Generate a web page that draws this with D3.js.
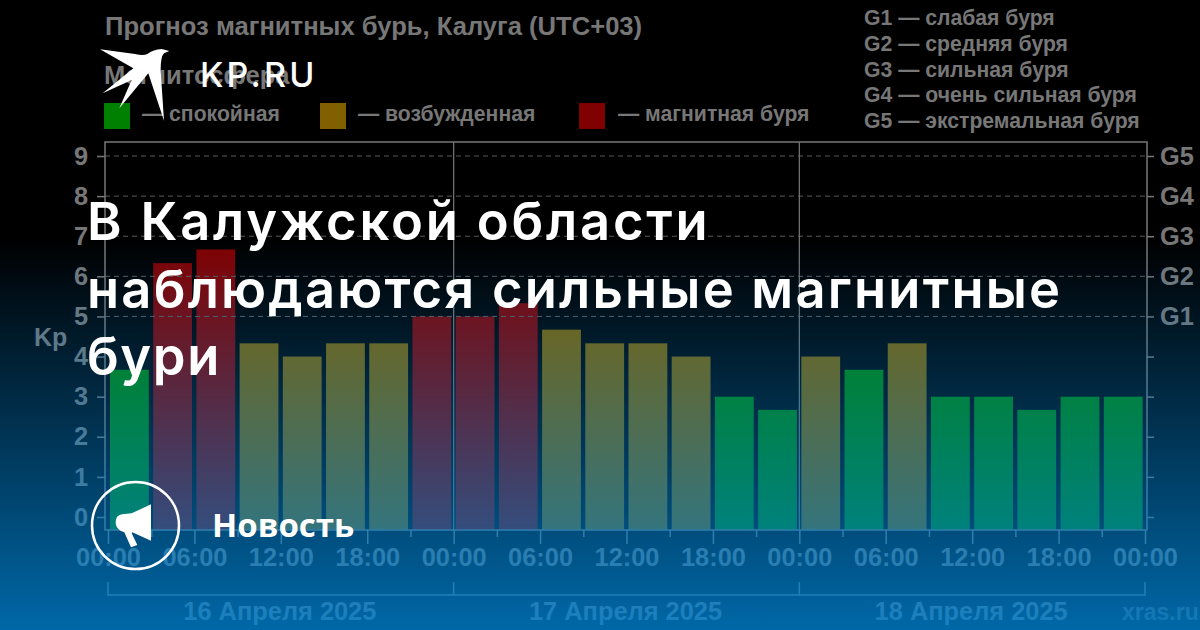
<!DOCTYPE html>
<html><head><meta charset="utf-8">
<script src="https://cdn.jsdelivr.net/npm/d3@7/dist/d3.min.js"></script>
<style>html,body{margin:0;padding:0;background:#000;overflow:hidden}svg{display:block}</style>
</head><body><svg id="c" width="1200" height="630"></svg>
<script>
const kpValues=[3.67,6.33,6.67,4.33,4,4.33,4.33,5,5,5.33,4.67,4.33,4.33,4,3,2.67,4,3.67,4.33,3,3,2.67,3,3];
const kpTicks=[0,1,2,3,4,5,6,7,8,9];
const gScale=[[5,"G1"],[6,"G2"],[7,"G3"],[8,"G4"],[9,"G5"]];
const hourTicks=[0,6,12,18,24,30,36,42,48,54,60,66,72];
const minorHours=[3,9,15,21,27,33,39,45,51,57,63,69];
const dayLabels=["16 Апреля 2025","17 Апреля 2025","18 Апреля 2025"];
const legendItems=[["— спокойная","#008000"],["— возбужденная","#806000"],["— магнитная буря","#800000"]];
const stormList=["G1 — слабая буря","G2 — средняя буря","G3 — сильная буря","G4 — очень сильная буря","G5 — экстремальная буря"];
const headline=["В Калужской области","наблюдаются сильные магнитные","бури"];

const GR="#777",AF="'Liberation Sans',Arial,sans-serif";
const svg=d3.select("#c");
const x=d3.scaleLinear().domain([0,72]).range([108,1145]);
const y=d3.scaleLinear().domain([0,9]).range([517,156]);
const col=d3.scaleThreshold().domain([4,5]).range(legendItems.map(d=>d[1]));
const fmtH=h=>String(h%24).padStart(2,"0")+":00";
const T=(s,tx,ty,size,o={})=>svg.append("text").attr("x",tx).attr("y",ty).attr("font-family",o.f||AF)
  .attr("font-weight",o.w||700).attr("font-size",size).attr("fill",o.c||GR).attr("text-anchor",o.a||"start")
  .attr("letter-spacing",o.ls||0).text(s);

// header
T("Прогноз магнитных бурь, Калуга (UTC+03)",105,35,25.6);
T("Магнитосфера",104,84,25.6);
[[104,142],[320,358],[579,618]].forEach((p,i)=>{
  svg.append("rect").attr("x",p[0]).attr("y",103).attr("width",26).attr("height",26).attr("fill",legendItems[i][1]);
  T(legendItems[i][0],p[1],121,21.2);
});
stormList.forEach((s,i)=>T(s,864,[25,51,77,102,128][i],21.2));

// bars
svg.append("g").selectAll("rect").data(kpValues).join("rect")
  .attr("x",(d,i)=>x(i*3)+2).attr("width",x(3)-x(0)-4.4)
  .attr("y",d=>y(d)).attr("height",d=>530-y(d)).attr("fill",d=>col(d));

// grid
svg.append("g").selectAll("line").data(gScale).join("line")
  .attr("x1",105).attr("x2",1147).attr("y1",d=>y(d[0])).attr("y2",d=>y(d[0]))
  .attr("stroke","#5a5a5a").attr("stroke-width",1).attr("stroke-dasharray","5 4");
svg.append("g").selectAll("line").data([24,48]).join("line")
  .attr("x1",d=>x(d)).attr("x2",d=>x(d)).attr("y1",142).attr("y2",530)
  .attr("stroke",GR).attr("stroke-width",1.2);
svg.append("rect").attr("x",105).attr("y",142).attr("width",1042).attr("height",388)
  .attr("fill","none").attr("stroke",GR).attr("stroke-width",1.5);

// axes
function styleAxis(g){g.select(".domain").remove();g.selectAll("line").attr("stroke",GR).attr("stroke-width",1.5);
  g.selectAll("text").attr("fill",GR).attr("font-family",AF).attr("font-weight",700).attr("font-size",25.4);}
svg.append("g").attr("transform","translate(105,0)")
  .call(d3.axisLeft(y).tickValues(kpTicks).tickSize(8).tickPadding(9).tickFormat(d3.format("d"))).call(styleAxis);
const gm=new Map(gScale);
svg.append("g").attr("transform","translate(1147,0)")
  .call(d3.axisRight(y).tickValues(kpTicks).tickSize(7).tickPadding(6).tickFormat(d=>gm.get(d)||"")).call(styleAxis);
svg.append("g").attr("transform","translate(0,530)")
  .call(d3.axisBottom(x).tickValues(hourTicks).tickSize(14).tickPadding(4).tickFormat(fmtH)).call(styleAxis);
svg.append("g").attr("transform","translate(0,530)")
  .call(d3.axisBottom(x).tickValues(minorHours).tickSize(7).tickFormat("")).call(styleAxis);

// date bracket
svg.append("path").attr("fill","none").attr("stroke",GR).attr("stroke-width",1.5)
  .attr("d",d3.line()([[x(0),582],[x(0),595],[x(72),595],[x(72),582]]));
svg.append("g").selectAll("line").data([24,48]).join("line")
  .attr("x1",d=>x(d)).attr("x2",d=>x(d)).attr("y1",582).attr("y2",595)
  .attr("stroke",GR).attr("stroke-width",1.5);
dayLabels.forEach((s,i)=>T(s,(x(i*24)+x((i+1)*24))/2-1,620,25.4,{a:"middle"}));
T("Kp",34,346,25);
T("xras.ru",1122,620,23,{c:"#555"});

// blue overlay
const defs=svg.append("defs");
const lg=defs.append("linearGradient").attr("id","ov").attr("x1",0).attr("y1",0).attr("x2",0).attr("y2",1);
[[0,0],[0.38,0],[1,0.8]].forEach(s=>lg.append("stop").attr("offset",s[0]).attr("stop-color","#0082d2").attr("stop-opacity",s[1]));
svg.append("rect").attr("width",1200).attr("height",630).attr("fill","url(#ov)");

// brand layer
svg.append("path").attr("fill","#fff").attr("transform","translate(90,40) scale(.3333)")
  .attr("d","M30,28 L135,42 Q160,48 172,42 Q190,28 215,27 L238,33 L222,40 Q212,50 212,90 L222,242 L175,100 L88,205 L125,120 L38,160 L130,85 Z");
T("KP.RU",200,87,34,{f:"Inter",w:500,c:"#fff",ls:3.2});
const headSpacing=[2.8,2.2,1.6];
headline.forEach((s,i)=>T(s,87,[240,308,375][i],52.5,{f:"Inter",w:600,c:"#fff",ls:headSpacing[i]}));
svg.append("circle").attr("cx",135.5).attr("cy",525.5).attr("r",43.5).attr("fill","none").attr("stroke","#fff").attr("stroke-width",2.5);
svg.append("path").attr("fill","#fff").attr("transform","translate(85,475) scale(.3333)")
  .attr("d","M198,88 L198,197 L142,172 L140,175 L157,210 L138,217 L118,172 L108,168 Q92,160 92,142 Q92,120 112,118 L140,115 Z");
T("Новость",212,537,33,{f:"'Open Sans'",w:700,c:"#fff"});
</script></body></html>
